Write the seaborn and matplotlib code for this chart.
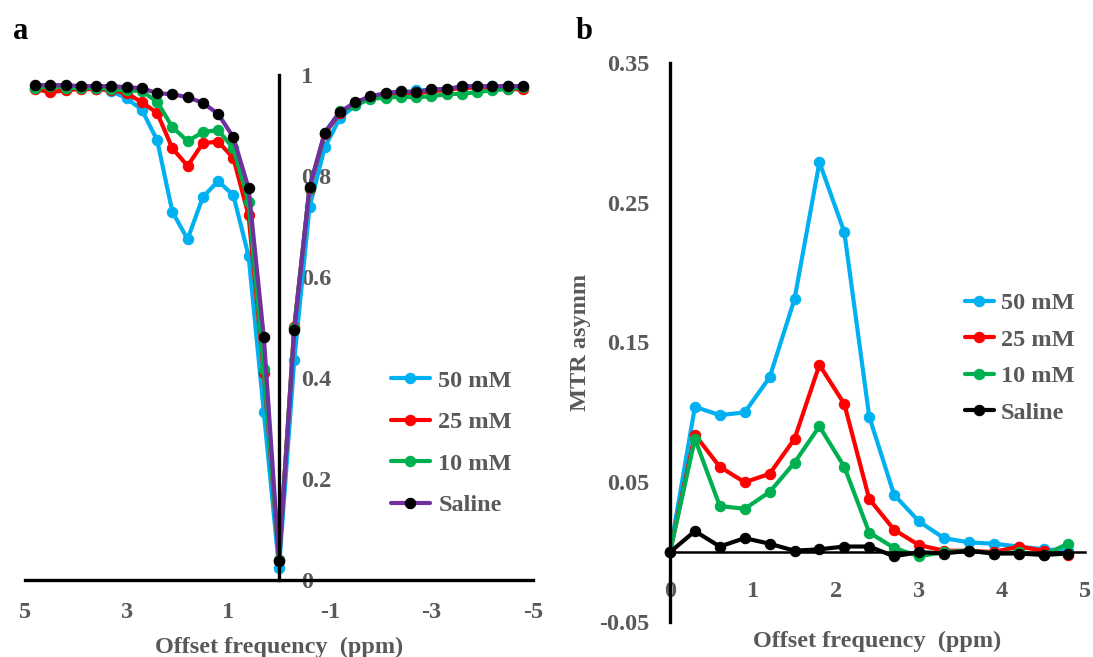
import matplotlib
matplotlib.use("Agg")
import matplotlib.pyplot as plt
import seaborn as sns
import pandas as pd
import numpy as np

sns.set_theme(style="white")
plt.rcParams['font.family'] = ['Liberation Serif', 'DejaVu Serif']
plt.rcParams['font.weight'] = 'bold'

# ----- panel a : Z-spectra -----
z_offset = [4.8, 4.5, 4.2, 3.9, 3.6, 3.3, 3.0, 2.7, 2.4, 2.1, 1.8, 1.5, 1.2, 0.9, 0.6, 0.3, 0.0,
            -0.3, -0.6, -0.9, -1.2, -1.5, -1.8, -2.1, -2.4, -2.7, -3.0, -3.3, -3.6, -3.9, -4.2, -4.5, -4.8]
z_50mM = [0.974, 0.977, 0.975, 0.975, 0.973, 0.968, 0.954, 0.931, 0.871, 0.729, 0.675, 0.758, 0.790, 0.762,
          0.642, 0.333, 0.024, 0.436, 0.739, 0.857, 0.915, 0.940, 0.955, 0.962, 0.962, 0.970, 0.970, 0.972,
          0.975, 0.976, 0.978, 0.978, 0.976]
z_25mM = [0.972, 0.966, 0.970, 0.972, 0.972, 0.970, 0.964, 0.946, 0.925, 0.855, 0.820, 0.865, 0.868, 0.836,
          0.722, 0.410, 0.040, 0.502, 0.775, 0.883, 0.925, 0.944, 0.955, 0.962, 0.965, 0.963, 0.968, 0.970,
          0.975, 0.975, 0.976, 0.972, 0.972]
z_10mM = [0.974, 0.978, 0.975, 0.974, 0.975, 0.972, 0.970, 0.968, 0.947, 0.897, 0.869, 0.887, 0.891, 0.855,
          0.749, 0.418, 0.040, 0.500, 0.776, 0.885, 0.928, 0.940, 0.953, 0.955, 0.957, 0.956, 0.958, 0.962,
          0.963, 0.966, 0.970, 0.972, 0.976]
z_saline = [0.980, 0.980, 0.980, 0.978, 0.978, 0.978, 0.976, 0.974, 0.964, 0.962, 0.956, 0.945, 0.923, 0.877,
            0.776, 0.481, 0.038, 0.495, 0.778, 0.886, 0.927, 0.946, 0.958, 0.964, 0.968, 0.966, 0.972, 0.972,
            0.978, 0.978, 0.978, 0.978, 0.978]

# ----- panel b : MTR asymmetry -----
m_offset = [0.0, 0.3, 0.6, 0.9, 1.2, 1.5, 1.8, 2.1, 2.4, 2.7, 3.0, 3.3, 3.6, 3.9, 4.2, 4.5, 4.8]
m_50mM = [0.0, 0.104, 0.098, 0.100, 0.125, 0.181, 0.279, 0.229, 0.097, 0.041, 0.022, 0.010, 0.007,
          0.006, 0.004, 0.002, 0.001]
m_25mM = [0.0, 0.084, 0.061, 0.050, 0.056, 0.081, 0.134, 0.106, 0.038, 0.016, 0.005, 0.001, 0.001,
          0.000, 0.004, 0.001, -0.002]
m_10mM = [0.0, 0.081, 0.033, 0.031, 0.043, 0.064, 0.090, 0.061, 0.014, 0.003, -0.003, 0.000, 0.001,
          -0.001, 0.000, -0.002, 0.006]
m_saline = [0.0, 0.015, 0.004, 0.010, 0.006, 0.001, 0.002, 0.004, 0.004, -0.003, 0.000, -0.001, 0.001,
            -0.001, -0.001, -0.002, -0.001]

labels = ['50 mM', '25 mM', '10 mM', 'Saline']
line_colors = ['#00B0F0', '#FF0000', '#00B050', '#7030A0']
marker_colors = ['#00B0F0', '#FF0000', '#00B050', 'black']
gray = '#595959'
fsize = 17.5

fig = plt.figure(figsize=(10.93, 6.57), dpi=100)
ax1 = fig.add_axes([0.0229, 0.1172, 0.4648, 0.7686])
ax2 = fig.add_axes([0.6130, 0.0533, 0.3797, 0.8508])

for ys, lab, lc, mc in zip([z_50mM, z_25mM, z_10mM, z_saline], labels, line_colors, marker_colors):
    sns.lineplot(x=z_offset, y=ys, ax=ax1, color=lc, linewidth=3, marker='o', markersize=7.5,
                 markerfacecolor=mc, markeredgecolor=mc, label=lab, errorbar=None, clip_on=False)

m_line = ['#00B0F0', '#FF0000', '#00B050', 'black']
for ys, lab, lc in zip([m_50mM, m_25mM, m_10mM, m_saline], labels, m_line):
    sns.lineplot(x=m_offset, y=ys, ax=ax2, color=lc, linewidth=3, marker='o', markersize=7.5,
                 markerfacecolor=lc, markeredgecolor=lc, label=lab, errorbar=None, clip_on=False)

# panel a axes
ax1.set_xlim(5, -5)
ax1.set_ylim(0, 1)
for s in ['top', 'right']:
    ax1.spines[s].set_visible(False)
ax1.spines['left'].set_position(('data', 0))
ax1.spines['left'].set_linewidth(2.4)
ax1.spines['bottom'].set_linewidth(2.4)
ax1.spines['left'].set_color('black')
ax1.spines['bottom'].set_color('black')
ax1.set_xticks([5, 3, 1, -1, -3, -5], ['5', '3', '1', '-1', '-3', '-5'])
ax1.set_yticks([0, 0.2, 0.4, 0.6, 0.8, 1.0], ['0', '0.2', '0.4', '0.6', '0.8', '1'])
ax1.tick_params(axis='x', length=0, pad=16, labelsize=fsize, labelcolor=gray)
ax1.tick_params(axis='y', length=0, pad=-16, labelsize=fsize, labelcolor=gray)
for t in ax1.get_yticklabels():
    t.set_horizontalalignment('left')
    t.set_fontweight('bold')
for t in ax1.get_xticklabels():
    t.set_fontweight('bold')
ax1.set_xlabel('Offset frequency  (ppm)', fontsize=fsize, color=gray, fontweight='bold', labelpad=10)
ax1.set_ylabel('')
ax1.legend(loc='upper left', bbox_to_anchor=(0.72, 0.416), frameon=False,
           handlelength=1.6, handletextpad=0.35, labelspacing=0.8, borderpad=0, borderaxespad=0,
           prop={'family': 'Liberation Serif', 'weight': 'bold', 'size': fsize})
for t in ax1.get_legend().get_texts():
    t.set_color(gray)

# panel b axes
ax2.set_xlim(0, 5)
ax2.set_ylim(-0.05, 0.35)
for s in ['top', 'right']:
    ax2.spines[s].set_visible(False)
ax2.spines['bottom'].set_position(('data', 0))
ax2.spines['left'].set_linewidth(2.4)
ax2.spines['bottom'].set_linewidth(1.8)
ax2.spines['left'].set_color('black')
ax2.spines['bottom'].set_color('black')
ax2.set_xticks([0, 1, 2, 3, 4, 5], ['0', '1', '2', '3', '4', '5'])
ax2.set_yticks([-0.05, 0.05, 0.15, 0.25, 0.35], ['-0.05', '0.05', '0.15', '0.25', '0.35'])
ax2.tick_params(axis='x', length=0, pad=21, labelsize=fsize, labelcolor=gray)
ax2.tick_params(axis='y', length=0, pad=15, labelsize=fsize, labelcolor=gray)
for t in ax2.get_xticklabels() + ax2.get_yticklabels():
    t.set_fontweight('bold')
ax2.set_xlabel('Offset frequency  (ppm)', fontsize=fsize, color=gray, fontweight='bold')
ax2.xaxis.set_label_coords(0.5, -0.016)
ax2.set_ylabel('MTR asymm', fontsize=fsize, color=gray, fontweight='bold')
ax2.yaxis.set_label_coords(-0.19, 0.5)
ax2.legend(loc='upper left', bbox_to_anchor=(0.71, 0.59), frameon=False,
           handlelength=1.2, handletextpad=0.3, labelspacing=0.6, borderpad=0, borderaxespad=0,
           prop={'family': 'Liberation Serif', 'weight': 'bold', 'size': fsize})
for t in ax2.get_legend().get_texts():
    t.set_color(gray)

fig.text(0.012, 0.94, 'a', fontsize=22, fontweight='bold', color='black')
fig.text(0.527, 0.94, 'b', fontsize=22, fontweight='bold', color='black')

fig.savefig('out.png', dpi=100, facecolor='white')
